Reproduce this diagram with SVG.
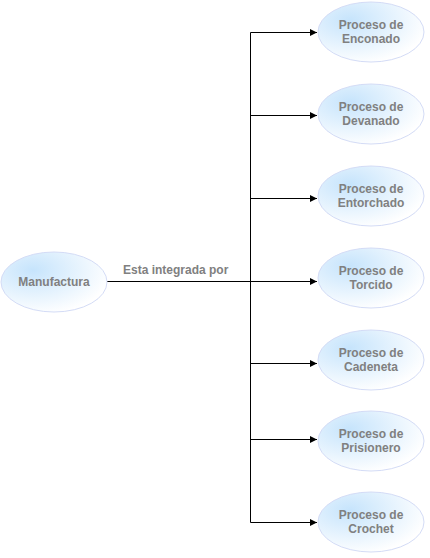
<svg xmlns="http://www.w3.org/2000/svg" width="430" height="558" viewBox="0 0 430 558">
<style>
.n ellipse{fill:url(#g);stroke:#d4dcf6;stroke-width:1}
.n text{font-family:"Liberation Sans",Arial,sans-serif;font-weight:bold;font-size:12px;fill:#808080;text-anchor:middle}
.c path{fill:none;stroke:#000;stroke-width:1}
.lbl{font-family:"Liberation Sans",Arial,sans-serif;font-weight:bold;font-size:12px;fill:#808080}
</style>
<defs>
<radialGradient id="g" cx="0.3" cy="0.3" r="0.75">
<stop offset="0" stop-color="#c6e4fc"/>
<stop offset="1" stop-color="#ffffff"/>
</radialGradient>
<marker id="a" markerWidth="8" markerHeight="8" refX="7" refY="4" orient="auto" markerUnits="userSpaceOnUse">
<path d="M0,0.5 L7,4 L0,7.5 Z" fill="#000"/>
</marker>
</defs>
<rect width="430" height="558" fill="#fff"/>
<g class="c" id="connectors">
<path d="M107,281.5 H250.5"/>
<path d="M250.5,32.5 V522.5"/>
<path d="M250.5,32.5 H317" marker-end="url(#a)"/>
<path d="M250.5,115.5 H317" marker-end="url(#a)"/>
<path d="M250.5,198.5 H317" marker-end="url(#a)"/>
<path d="M250.5,281.5 H317" marker-end="url(#a)"/>
<path d="M250.5,363.5 H317" marker-end="url(#a)"/>
<path d="M250.5,439.5 H317" marker-end="url(#a)"/>
<path d="M250.5,522.5 H317" marker-end="url(#a)"/>
<text class="lbl" x="123" y="274">Esta integrada por</text>
</g>
<g class="n" id="manufactura"><ellipse cx="54" cy="282" rx="53" ry="30"/><text x="54" y="286">Manufactura</text></g>
<g class="n" id="enconado"><ellipse cx="371" cy="32" rx="53" ry="30"/><text x="371" y="29">Proceso de</text><text x="371" y="43">Enconado</text></g>
<g class="n" id="devanado"><ellipse cx="371" cy="114" rx="53" ry="30"/><text x="371" y="111">Proceso de</text><text x="371" y="125">Devanado</text></g>
<g class="n" id="entorchado"><ellipse cx="371" cy="196" rx="53" ry="30"/><text x="371" y="193">Proceso de</text><text x="371" y="207">Entorchado</text></g>
<g class="n" id="torcido"><ellipse cx="371" cy="278" rx="53" ry="30"/><text x="371" y="275">Proceso de</text><text x="371" y="289">Torcido</text></g>
<g class="n" id="cadeneta"><ellipse cx="371" cy="360" rx="53" ry="30"/><text x="371" y="357">Proceso de</text><text x="371" y="371">Cadeneta</text></g>
<g class="n" id="prisionero"><ellipse cx="371" cy="441" rx="53" ry="30"/><text x="371" y="438">Proceso de</text><text x="371" y="452">Prisionero</text></g>
<g class="n" id="crochet"><ellipse cx="371" cy="522" rx="53" ry="30"/><text x="371" y="519">Proceso de</text><text x="371" y="533">Crochet</text></g>
</svg>
